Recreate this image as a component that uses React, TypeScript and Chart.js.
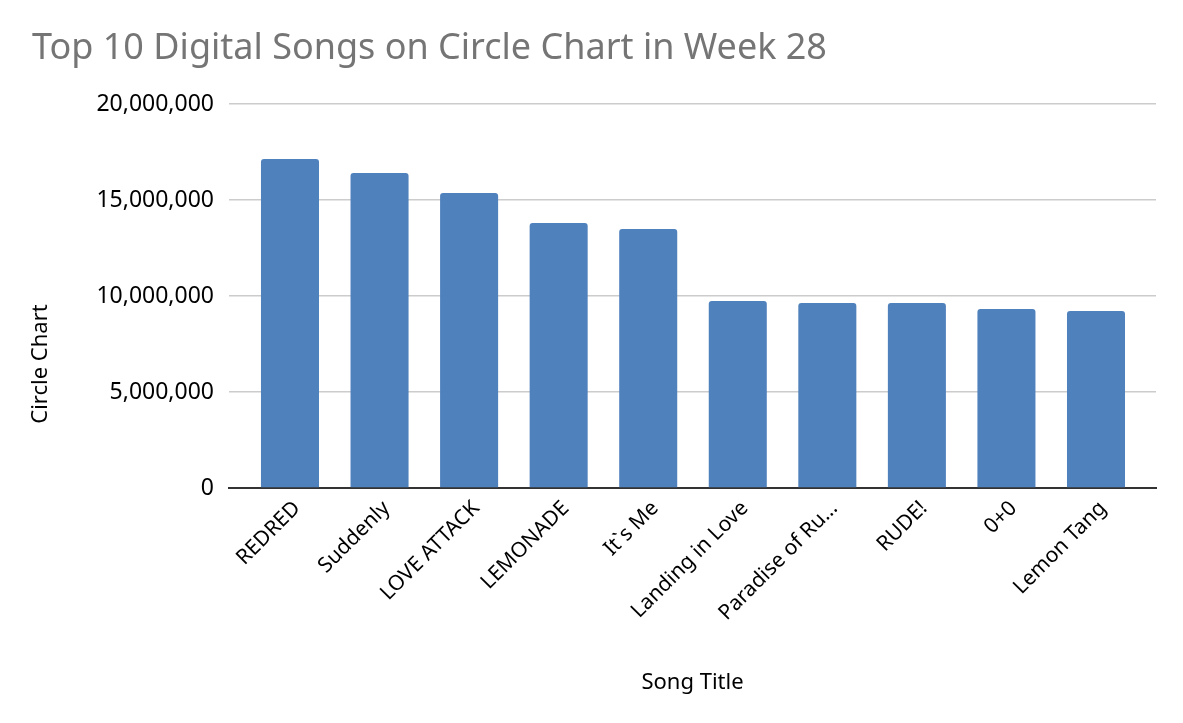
import React, { useEffect, useRef } from "react";
import { Chart, registerables } from "chart.js";

Chart.register(...registerables);

const songTitles = [
  "REDRED",
  "Suddenly",
  "LOVE ATTACK",
  "LEMONADE",
  "It`s Me",
  "Landing in Love",
  "Paradise of Ru…",
  "RUDE!",
  "0+0",
  "Lemon Tang",
];

const circleChartValues = [
  17140000, 16410000, 15360000, 13800000, 13490000, 9740000, 9640000, 9640000, 9320000, 9220000,
];

const yTickValues = [0, 5000000, 10000000, 15000000, 20000000];

const chartTitle = "Top 10 Digital Songs on Circle Chart in Week 28";
const xAxisTitle = "Song Title";
const yAxisTitle = "Circle Chart";

const FONT = "'Noto Sans', 'Noto Sans CJK KR', sans-serif";

const yTitlePlugin = {
  id: "yTitlePlugin",
  afterDraw(chart: any) {
    const ctx = chart.ctx;
    ctx.save();
    ctx.translate(41, 364);
    ctx.rotate(-Math.PI / 2);
    ctx.font = `normal 22px ${FONT}`;
    ctx.fillStyle = "#000000";
    ctx.textAlign = "center";
    ctx.textBaseline = "middle";
    ctx.fillText(yAxisTitle, 0, 0);
    ctx.restore();
  },
};

export default function App() {
  const canvasRef = useRef<HTMLCanvasElement | null>(null);

  useEffect(() => {
    document.body.style.margin = "0";
    const canvas = canvasRef.current;
    if (!canvas) return;
    const chart = new Chart(canvas, {
      type: "bar",
      data: {
        datasets: [
          {
            label: yAxisTitle,
            data: songTitles.map((_, i) => ({ x: i, y: circleChartValues[i] })),
            backgroundColor: "#4f81bd",
            borderWidth: 0,
            borderRadius: { topLeft: 3, topRight: 3, bottomLeft: 0, bottomRight: 0 },
            borderSkipped: false,
            categoryPercentage: 1,
            barPercentage: 0.648,
          },
        ],
      },
      plugins: [yTitlePlugin],
      options: {
        animation: false,
        responsive: false,
        maintainAspectRatio: false,
        layout: { padding: { left: 32, right: 27, top: 0, bottom: 0 } },
        plugins: {
          legend: { display: false },
          tooltip: { enabled: false },
          title: {
            display: true,
            text: chartTitle,
            align: "start",
            color: "#757575",
            font: { family: FONT, size: 36, weight: "normal", lineHeight: 1.2 },
            padding: { top: 27.4, bottom: 33.4 },
          },
        },
        scales: {
          x: {
            type: "linear",
            offset: false,
            min: -0.681,
            max: 9.67,
            afterBuildTicks: (scale: any) => {
              scale.ticks = songTitles.map((_, i) => ({ value: i }));
            },
            grid: { display: false, drawTicks: false, offset: false },
            border: { display: true, color: "#333333", width: 2 },
            ticks: {
              color: "#000000",
              font: { family: FONT, size: 21 },
              maxRotation: 45,
              minRotation: 45,
              autoSkip: false,
              padding: 8,
              labelOffset: 7,
              callback: (v: any) => songTitles[Math.round(Number(v))] ?? "",
            },
            title: {
              display: true,
              text: xAxisTitle,
              color: "#000000",
              font: { family: FONT, size: 22, lineHeight: 1.2 },
              padding: { top: 0, bottom: 26.8 },
            },
            afterFit: (scale: any) => {
              scale.height = 235;
            },
          },
          y: {
            min: 0,
            max: 20000000,
            afterBuildTicks: (scale: any) => {
              scale.ticks = yTickValues.map((v) => ({ value: v }));
            },
            grid: { color: "#cccccc", lineWidth: 1.5, drawTicks: false },
            border: { display: false },
            ticks: {
              color: "#000000",
              font: { family: FONT, size: 23 },
              padding: 15,
              callback: (v: any) => Number(v).toLocaleString("en-US"),
            },
            title: { display: false },
            afterFit: (scale: any) => {
              scale.width = 197;
            },
          },
        },
      },
    });
    return () => chart.destroy();
  }, []);

  return (
    <div style={{ position: "relative", width: 1183, height: 723, background: "#ffffff" }}>
      <canvas ref={canvasRef} width={1183} height={723} style={{ width: 1183, height: 723 }} />
    </div>
  );
}
